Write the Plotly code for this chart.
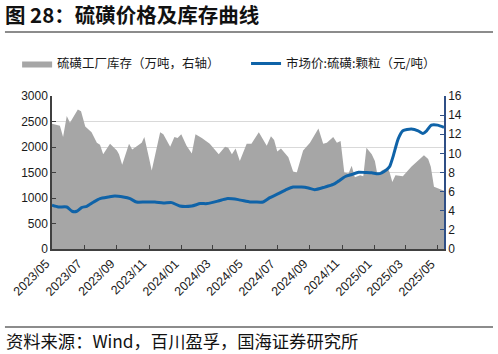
import plotly.graph_objects as go

# 硫磺工厂库存（万吨，右轴）
inv_dates = ["2023-05-01","2023-05-10","2023-05-16","2023-05-22","2023-05-29","2023-06-04","2023-06-19","2023-06-25",
             "2023-07-03","2023-07-15","2023-07-25","2023-07-31","2023-08-06","2023-08-19","2023-09-01","2023-09-05",
             "2023-09-11","2023-09-24","2023-09-30","2023-10-18","2023-10-23","2023-11-01","2023-11-06","2023-11-22",
             "2023-11-28","2023-12-11","2023-12-19","2023-12-25","2024-01-01","2024-01-11","2024-01-21","2024-01-28",
             "2024-02-09","2024-02-24","2024-03-05","2024-03-12","2024-03-24","2024-03-30","2024-04-06","2024-04-13",
             "2024-04-21","2024-05-04","2024-05-13","2024-05-27","2024-06-11","2024-06-19","2024-06-25","2024-07-01",
             "2024-07-08","2024-07-22","2024-07-31","2024-08-07","2024-08-19","2024-09-01","2024-09-17","2024-09-26",
             "2024-10-03","2024-10-15","2024-10-22","2024-10-29","2024-11-05","2024-11-13","2024-11-19","2024-11-25",
             "2024-12-05","2024-12-11","2024-12-17","2024-12-27","2025-01-02","2025-01-07","2025-01-15","2025-01-26",
             "2025-01-30","2025-02-04","2025-02-10","2025-02-24","2025-03-12","2025-03-28","2025-04-05","2025-04-13",
             "2025-04-18","2025-04-24","2025-05-05","2025-05-13"]
inv_values = [13.1, 13.0, 12.9, 11.7, 13.9, 13.2, 14.6, 14.4,
              12.8, 12.2, 11.1, 10.9, 9.9, 11.0, 10.3, 9.9,
              8.8, 11.0, 10.4, 11.1, 11.7, 9.5, 8.2, 12.2,
              12.0, 10.7, 11.7, 11.6, 12.0, 10.8, 10.0, 12.0,
              11.6, 11.0, 10.3, 9.9, 10.7, 10.6, 9.9, 10.5,
              9.2, 11.0, 11.0, 12.2, 10.8, 11.8, 11.4, 10.2,
              10.5, 9.6, 8.1, 8.0, 10.3, 11.1, 12.6, 11.0,
              11.1, 11.7, 11.1, 11.3, 8.0, 7.9, 8.7, 7.5,
              7.7, 7.6, 10.6, 9.9, 9.2, 7.7, 8.2, 8.5,
              8.0, 7.0, 7.7, 7.6, 8.6, 9.4, 9.8, 9.4,
              8.6, 6.5, 6.3, 6.1]

# 市场价:硫磺:颗粒（元/吨）
price_dates = ["2023-05-01","2023-05-13","2023-05-29","2023-06-08","2023-06-17","2023-06-26","2023-07-06","2023-07-19",
               "2023-07-31","2023-08-16","2023-08-28","2023-09-13","2023-09-26","2023-10-08","2023-10-24","2023-11-12",
               "2023-11-28","2023-12-14","2023-12-29","2024-01-21","2024-02-06","2024-02-19","2024-03-11","2024-03-27",
               "2024-04-18","2024-05-10","2024-05-20","2024-06-04","2024-06-17","2024-07-03","2024-07-19","2024-07-31",
               "2024-08-16","2024-08-29","2024-09-10","2024-09-29","2024-10-15","2024-10-25","2024-11-07","2024-11-19",
               "2024-12-02","2024-12-14","2024-12-27","2025-01-08","2025-01-15","2025-01-24","2025-01-30","2025-02-06",
               "2025-02-15","2025-02-24","2025-03-12","2025-03-25","2025-04-03","2025-04-10","2025-04-19","2025-05-01",
               "2025-05-13"]
price_values = [857, 824, 824, 740, 740, 812, 838, 922,
                987, 1019, 1039, 1019, 987, 922, 922, 922,
                903, 909, 844, 844, 890, 890, 941, 987,
                968, 922, 922, 922, 1007, 1085, 1169, 1214,
                1214, 1195, 1163, 1214, 1266, 1331, 1422, 1461,
                1506, 1500, 1494, 1474, 1494, 1552, 1617, 1831,
                2156, 2318, 2351, 2318, 2266, 2318, 2429, 2429,
                2383]

tick_dates = ["2023-05-01","2023-07-01","2023-09-01","2023-11-01","2024-01-01","2024-03-01","2024-05-01",
              "2024-07-01","2024-09-01","2024-11-01","2025-01-01","2025-03-01","2025-05-01"]
tick_labels = ["2023/05","2023/07","2023/09","2023/11","2024/01","2024/03","2024/05",
               "2024/07","2024/09","2024/11","2025/01","2025/03","2025/05"]

CJK = "Noto Sans CJK SC"
NUM = "Liberation Sans, Arial, sans-serif"
TXT = "#1a1a1a"

fig = go.Figure()
fig.add_trace(go.Scatter(
    x=inv_dates, y=inv_values, name="硫磺工厂库存（万吨，右轴）",
    mode="lines", line=dict(width=0, color="#a6a6a6"),
    fill="tozeroy", fillcolor="#a6a6a6", yaxis="y", legend="legend"))
fig.add_trace(go.Scatter(
    x=price_dates, y=price_values, name="市场价:硫磺:颗粒（元/吨）",
    mode="lines", line=dict(width=3, color="#0f63a8", shape="spline", smoothing=0.6),
    yaxis="y2", legend="legend2"))

# rotated x tick labels as annotations anchored at each tick
tick_annots = [
    dict(text=lab, xref="x", yref="paper", x=d, y=0, xanchor="right", yanchor="top",
         textangle=-45, showarrow=False, xshift=3, yshift=-5,
         font=dict(family=NUM, size=12.5, color=TXT))
    for d, lab in zip(tick_dates, tick_labels)
]

leg_common = dict(orientation="h", xanchor="left", y=1.21, yanchor="middle",
                  font=dict(family=CJK, size=12.5, color=TXT),
                  itemwidth=30, bgcolor="rgba(0,0,0,0)")

fig.update_layout(
    width=498, height=354, autosize=False,
    margin=dict(l=52, r=54, t=96, b=105),
    paper_bgcolor="white", plot_bgcolor="white",
    showlegend=True,
    legend=dict(x=-0.089, **leg_common),
    legend2=dict(x=0.495, **leg_common),
    title=dict(text="<b>图 28：硫磺价格及库存曲线</b>", xref="container", yref="container",
               x=0.01, xanchor="left", y=1 - 16/354, yanchor="middle",
               font=dict(family=CJK, size=20.5, color="#111")),
    xaxis=dict(type="date", range=["2023-05-01", "2025-05-13"],
               tickmode="array", tickvals=tick_dates, showticklabels=False,
               ticks="inside", ticklen=4, tickcolor="#404040",
               showline=True, linecolor="#404040", linewidth=1.5,
               showgrid=False, zeroline=False),
    yaxis=dict(side="right", range=[0, 16], dtick=2, tick0=0,
               showgrid=False, zeroline=False,
               showline=True, linecolor="#2f4f86", linewidth=1.5,
               ticks="inside", ticklen=4, tickcolor="#2f4f86",
               tickfont=dict(family=NUM, size=12, color=TXT)),
    yaxis2=dict(overlaying="y", side="left", range=[0, 3000], dtick=500, tick0=0,
                showgrid=True, gridcolor="#d9d9d9", gridwidth=1, zeroline=False,
                showline=True, linecolor="#404040", linewidth=1.5,
                ticks="inside", ticklen=4, tickcolor="#404040",
                tickfont=dict(family=NUM, size=12, color=TXT)),
    shapes=[
        dict(type="line", xref="paper", yref="paper", x0=-0.12, x1=1.125, y0=1.418, y1=1.418,
             line=dict(color="#666666", width=1.5)),
        dict(type="line", xref="paper", yref="paper", x0=-0.12, x1=1.125, y0=-0.51, y1=-0.51,
             line=dict(color="#666666", width=1.5)),
    ],
    annotations=tick_annots + [
        dict(text="资料来源：Wind，百川盈孚，国海证券研究所", xref="paper", yref="paper",
             x=-0.122, y=-0.60, xanchor="left", yanchor="middle", showarrow=False,
             font=dict(family=CJK, size=17.3, color="#111")),
    ],
)

fig.write_html("out.html")
